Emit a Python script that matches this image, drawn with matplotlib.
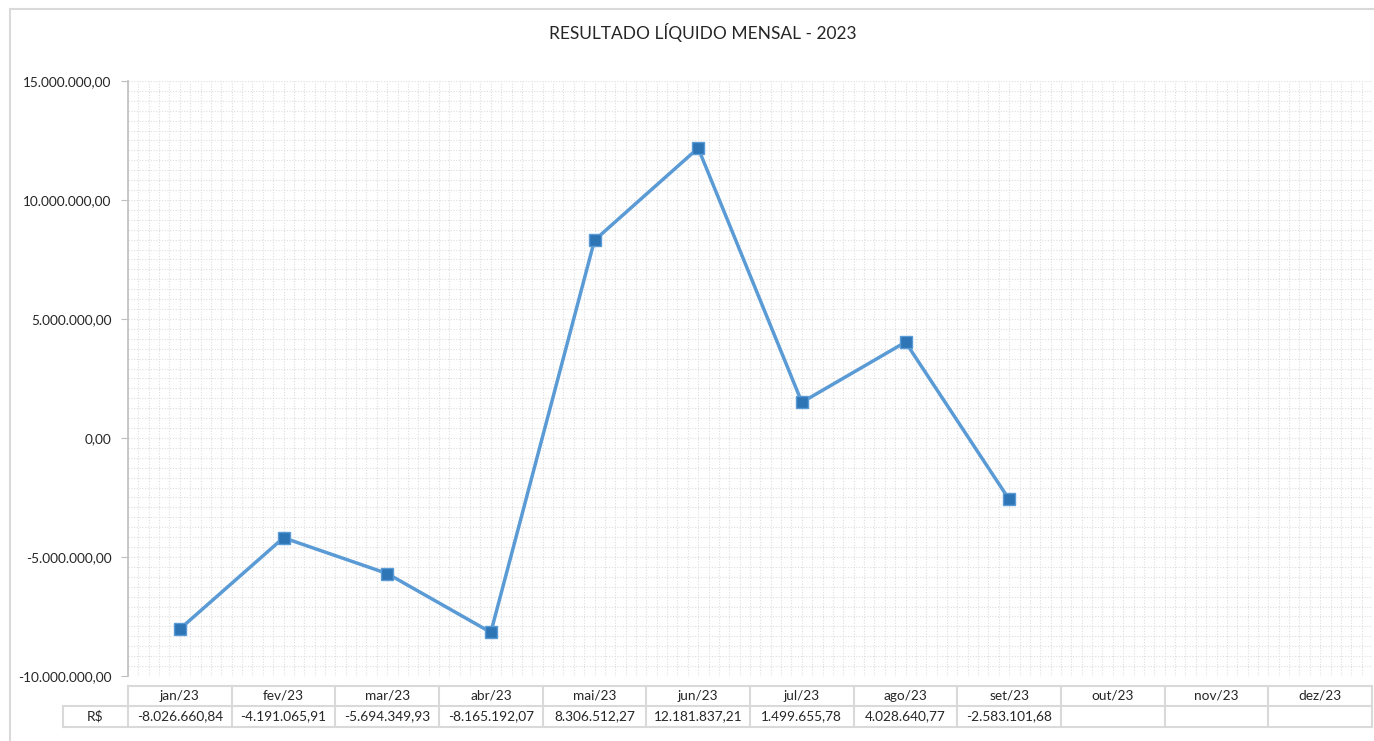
import numpy as np
import matplotlib
matplotlib.use("Agg")
import matplotlib.pyplot as plt
from matplotlib.ticker import MultipleLocator, FuncFormatter
from matplotlib.transforms import blended_transform_factory
from matplotlib.patches import Rectangle

plt.rcParams["font.family"] = ["Lato", "DejaVu Sans"]

months = ["jan/23", "fev/23", "mar/23", "abr/23", "mai/23", "jun/23",
          "jul/23", "ago/23", "set/23", "out/23", "nov/23", "dez/23"]
values = [-8026660.84, -4191065.91, -5694349.93, -8165192.07, 8306512.27,
          12181837.21, 1499655.78, 4028640.77, -2583101.68]
row_label = "R$"
title = "RESULTADO LÍQUIDO MENSAL - 2023"

W, H = 1374, 741


def br(v, dec=2):
    s = f"{v:,.{dec}f}"
    return s.replace(",", "X").replace(".", ",").replace("X", ".")


def fy(px):
    return 1 - px / H


fig = plt.figure(figsize=(W / 100, H / 100), dpi=100)
fig.patches.append(Rectangle((10 / W, fy(H + 5)), 1.2, fy(9) - fy(H + 5),
                             transform=fig.transFigure, fill=False,
                             edgecolor="#D9D9D9", lw=1.5))

ax = fig.add_axes([128 / W, fy(676), (1372 - 128) / W, (676 - 81) / H])
x = np.arange(len(values))
ax.plot(x, values, color="#5B9BD5", lw=2.5, marker="s", ms=8,
        mfc="#2E75B6", mec="#5B9BD5", mew=1, zorder=3)

ax.set_xlim(-0.5, len(months) - 0.5)
ax.set_ylim(-10e6, 15e6)
ax.yaxis.set_major_locator(MultipleLocator(5e6))
ax.yaxis.set_minor_locator(MultipleLocator(5e6 / 12))
ax.xaxis.set_minor_locator(MultipleLocator(0.1))
ax.set_xticks([])
ax.yaxis.set_major_formatter(FuncFormatter(lambda v, p: br(v)))
ax.tick_params(axis="y", which="major", length=5, color="#BFBFBF",
               labelsize=9.8, labelcolor="#262626", pad=7)
ax.tick_params(which="minor", length=0)
ax.grid(which="both", color="#DEDEDE", lw=0.8, ls=(0, (1, 1.5)))
ax.grid(which="major", axis="x", visible=False)
for s in ["top", "right", "bottom"]:
    ax.spines[s].set_visible(False)
ax.spines["left"].set_color("#BFBFBF")
ax.spines["left"].set_linewidth(1.2)

fig.text(703 / W, fy(32), title, ha="center", va="center",
         fontsize=12.5, color="#262626")

# data table under the axis
tr = blended_transform_factory(ax.transData, fig.transFigure)
lc = "#D9D9D9"
n = len(months)
left_x = -0.5 - 65 / (1244 / n)
y0, y1, y2 = fy(686), fy(706), fy(727)
ax.plot([-0.5, n - 0.5], [y0, y0], transform=tr, color=lc, lw=1.5, clip_on=False)
for yy in (y1, y2):
    ax.plot([left_x, n - 0.5], [yy, yy], transform=tr, color=lc, lw=1.5, clip_on=False)
ax.plot([left_x, left_x], [y1, y2], transform=tr, color=lc, lw=1.5, clip_on=False)
for k in range(n + 1):
    ax.plot([k - 0.5, k - 0.5], [y0, y2], transform=tr, color=lc, lw=1.5, clip_on=False)
for i, m in enumerate(months):
    ax.text(i, (y0 + y1) / 2, m, transform=tr, ha="center", va="center",
            fontsize=9.8, color="#262626")
for i, v in enumerate(values):
    ax.text(i, (y1 + y2) / 2, br(v), transform=tr, ha="center", va="center",
            fontsize=9.8, color="#262626")
ax.text((left_x - 0.5) / 2, (y1 + y2) / 2, row_label, transform=tr,
        ha="center", va="center", fontsize=9.8, color="#262626")

fig.savefig("out.png", dpi=100)
